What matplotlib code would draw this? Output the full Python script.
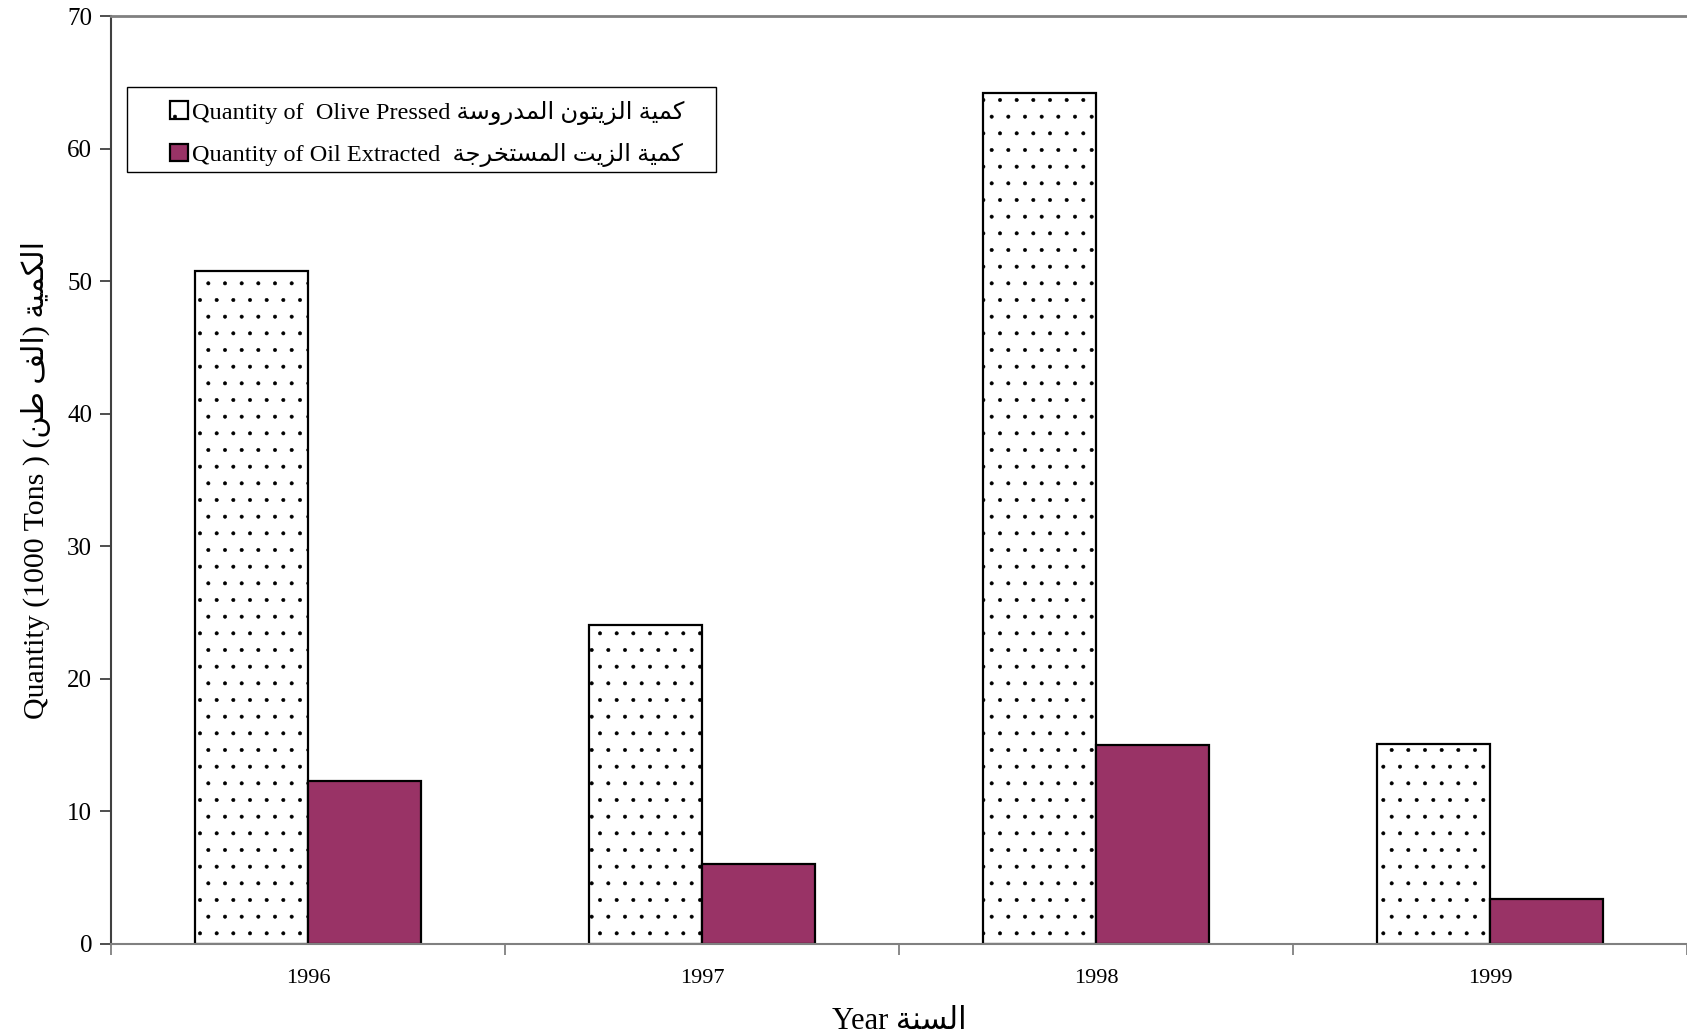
import matplotlib.pyplot as plt
from matplotlib.patches import Rectangle
from matplotlib.ticker import FixedLocator

# Data
years = ['1996', '1997', '1998', '1999']
olive_pressed = [50.8, 24.1, 64.2, 15.1]
oil_extracted = [12.3, 6.0, 15.0, 3.4]

# Arabic letters -> (isolated presentation form, number of forms)
forms = {
    'ا': (0xFE8D, 2), 'ة': (0xFE93, 2), 'ت': (0xFE95, 4), 'ج': (0xFE9D, 4),
    'خ': (0xFEA5, 4), 'د': (0xFEA9, 2), 'ر': (0xFEAD, 2), 'ز': (0xFEAF, 2),
    'س': (0xFEB1, 4), 'ط': (0xFEC1, 4), 'ف': (0xFED1, 4), 'ك': (0xFED9, 4),
    'ل': (0xFEDD, 4), 'م': (0xFEE1, 4), 'ن': (0xFEE5, 4), 'و': (0xFEED, 2),
    'ي': (0xFEF1, 4),
}


def ar(text):
    # simple contextual shaping + visual (right-to-left) ordering
    out = []
    for i, ch in enumerate(text):
        if ch not in forms:
            out.append({'(': ')', ')': '('}.get(ch, ch))
            continue
        base, n = forms[ch]
        prev = text[i - 1] if i > 0 else ''
        nxt = text[i + 1] if i + 1 < len(text) else ''
        join_prev = prev in forms and forms[prev][1] == 4
        join_next = n == 4 and nxt in forms
        if join_prev and join_next:
            k = 3
        elif join_next:
            k = 2
        elif join_prev:
            k = 1
        else:
            k = 0
        out.append(chr(base + k))
    return ''.join(reversed(out))


plt.rcParams['font.family'] = ['Liberation Serif', 'DejaVu Sans']
plt.rcParams['hatch.linewidth'] = 0.4

fig = plt.figure(figsize=(16.87, 10.36), dpi=100)
ax = fig.add_axes([111 / 1687, 92 / 1036, 1576 / 1687, 928 / 1036])

x = list(range(len(years)))
w = 0.287
ax.bar([i - w / 2 for i in x], olive_pressed, w, color='white', edgecolor='black',
       hatch='.', linewidth=1.6, label='Quantity of  Olive Pressed ' + ar('كمية الزيتون المدروسة'))
ax.bar([i + w / 2 for i in x], oil_extracted, w, color='#993366', edgecolor='black',
       linewidth=1.6, label='Quantity of Oil Extracted  ' + ar('كمية الزيت المستخرجة'))

ax.set_xlim(-0.5, len(years) - 0.5)
ax.set_ylim(0, 70)
ax.set_yticks(range(0, 71, 10))
ax.set_xticks(x)
ax.set_xticklabels(years)
ax.xaxis.set_minor_locator(FixedLocator([i - 0.5 for i in range(len(years) + 1)]))
ax.tick_params(axis='x', which='major', length=0, pad=18, labelsize=16)
ax.tick_params(axis='x', which='minor', length=8, width=1.3, color='#808080', direction='out')
ax.tick_params(axis='y', length=8, width=1.3, color='#404040', direction='out', pad=5.5, labelsize=18)

ax.spines['right'].set_visible(False)
ax.spines['top'].set_color('#808080')
ax.spines['top'].set_linewidth(2)
ax.spines['bottom'].set_color('#808080')
ax.spines['bottom'].set_linewidth(1.5)
ax.spines['left'].set_color('#404040')
ax.spines['left'].set_linewidth(1.5)

ax.set_xlabel('Year ' + ar('السنة'), fontsize=22, labelpad=14)
ax.set_ylabel('Quantity (1000 Tons ) ' + ar('الكمية (الف طن)'), fontsize=21.5, labelpad=12)

# legend box (drawn separately so the padding can match the original)
ax.add_patch(Rectangle((0.0102, 0.8319), 0.3737, 0.0916, transform=ax.transAxes,
                       facecolor='white', edgecolor='black', linewidth=1.0, zorder=4))
leg = ax.legend(loc='upper left', bbox_to_anchor=(0.0375, 0.909), borderaxespad=0,
                borderpad=0, fontsize=17.5, frameon=False,
                handlelength=0.75, handleheight=0.75, handletextpad=0.15,
                labelspacing=0.75)
leg.set_zorder(5)

plt.savefig('out.png', dpi=100)
